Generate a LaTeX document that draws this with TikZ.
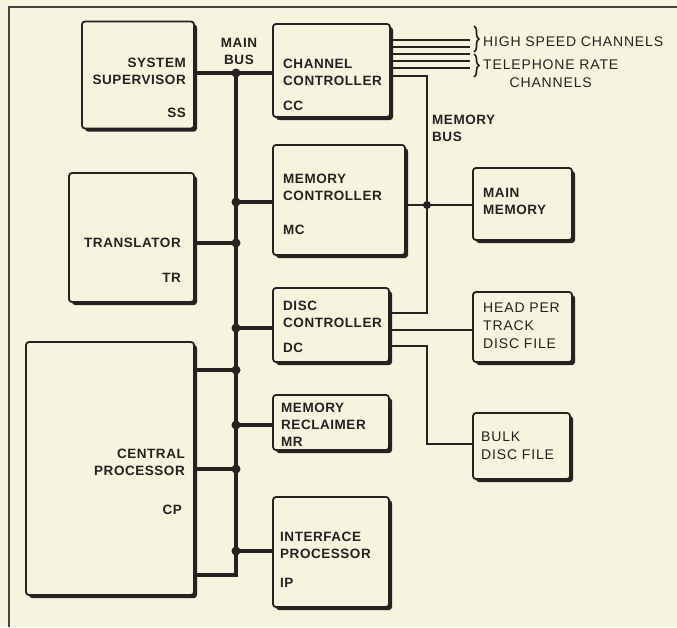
\documentclass[tikz,border=0pt]{standalone}
\usepackage{fontspec}
\setmainfont{Liberation Sans}
\usetikzlibrary{positioning, shadows, decorations.pathreplacing}
\definecolor{paper}{RGB}{245,244,222}
\definecolor{ink}{RGB}{38,34,34}

\begin{document}
\begin{tikzpicture}[
    x=1pt, y=-1pt,
    unit/.style={rectangle, draw=ink, line width=1.8pt, rounded corners=3pt, fill=paper, inner sep=0pt,
        drop shadow={shadow xshift=3pt, shadow yshift=-3pt, fill=ink, opacity=1}},
    lbl/.style={inner sep=0pt, text=ink, font=\fontsize{13.5}{17}\selectfont\bfseries\addfontfeature{LetterSpace=4}},
    note/.style={lbl, font=\fontsize{14}{18}\selectfont\addfontfeature{LetterSpace=6}},
    bus/.style={draw=ink, line width=3.2pt},
    link/.style={draw=ink, line width=2.2pt},
    dot/.style={circle, fill=ink, inner sep=0pt, minimum size=9pt}
]
\useasboundingbox[fill=paper] (0,0) rectangle (677,627);
\draw[ink!85, line width=1.2pt] (9,627) -- (9,7) -- (677,7);

% units on the main bus
\node[unit, minimum width=112, minimum height=107] (ss) at (138,75) {};
\node[unit, minimum width=117, minimum height=93] (cc) at (331.5,70.5) {};
\node[unit, minimum width=132, minimum height=110] (mc) at (339,200) {};
\node[unit, minimum width=125, minimum height=129] (tr) at (131.5,237.5) {};
\node[unit, minimum width=116, minimum height=74] (dc) at (331,325) {};
\node[unit, minimum width=168, minimum height=253] (cp) at (110,468.5) {};
\node[unit, minimum width=116, minimum height=55] (mr) at (331,422.5) {};
\node[unit, minimum width=116, minimum height=110] (ip) at (331,552) {};

% memory and discs
\node[unit, minimum width=99, minimum height=72] (mm) at (522.5,204) {};
\node[unit, minimum width=99, minimum height=70] (hpt) at (522.5,327) {};
\node[unit, minimum width=97, minimum height=66] (bulk) at (521.5,446) {};

% labels
\node[lbl, align=right, anchor=east] at (186,71) {SYSTEM\\SUPERVISOR};
\node[lbl, anchor=east] at (186,113) {SS};
\node[lbl, align=left, anchor=west] at (283,72) {CHANNEL\\CONTROLLER};
\node[lbl, anchor=west] at (283,106) {CC};
\node[lbl, align=left, anchor=west] at (283,187) {MEMORY\\CONTROLLER};
\node[lbl, anchor=west] at (283,230) {MC};
\node[lbl, anchor=east] at (181,243) {TRANSLATOR};
\node[lbl, anchor=east] at (181,278) {TR};
\node[lbl, align=left, anchor=west] at (283,314) {DISC\\CONTROLLER};
\node[lbl, anchor=west] at (283,348) {DC};
\node[lbl, align=right, anchor=east] at (185,462) {CENTRAL\\PROCESSOR};
\node[lbl, anchor=east] at (182,510) {CP};
\node[lbl, align=left, anchor=west] at (281,425) {MEMORY\\RECLAIMER\\MR};
\node[lbl, align=left, anchor=west] at (280,545) {INTERFACE\\PROCESSOR};
\node[lbl, anchor=west] at (280,583) {IP};
\node[lbl, align=left, anchor=west] at (483,201) {MAIN\\MEMORY};
\node[note, align=left, anchor=west] at (483,326) {HEAD PER\\TRACK\\DISC FILE};
\node[note, align=left, anchor=west] at (481,446) {BULK\\DISC FILE};
\node[lbl, align=center] (mainbus) at (239,51) {MAIN\\BUS};
\node[lbl, align=left, anchor=west] (membus) at (432,128) {MEMORY\\BUS};

% main bus
\coordinate (bt) at (236,73);
\coordinate (bb) at (236,575);
\draw[bus] (bt) -- (bb) -- (cp.east |- bb);
\draw[bus] (ss.east |- bt) -- (cc.west |- bt);
\foreach \yy/\u in {202/mc, 328/dc, 425/mr, 551/ip}
    \draw[bus] (bt |- 0,\yy) -- (\u.west |- 0,\yy);
\foreach \yy/\u in {243/tr, 370/cp, 469/cp}
    \draw[bus] (\u.east |- 0,\yy) -- (bt |- 0,\yy);
\foreach \yy in {73,202,243,328,370,425,469,551}
    \node[dot] at (bt |- 0,\yy) {};

% memory bus
\coordinate (mt) at (427,76);
\coordinate (mj) at (427,205);
\coordinate (mb) at (427,313);
\draw[link] (cc.east |- mt) -- (mt) -- (mb) -- (dc.east |- mb);
\draw[link] (mc.east |- mj) -- (mm.west |- mj);
\node[dot, minimum size=8pt] at (mj) {};

% disc files
\draw[link] (dc.east |- 0,330) -- (hpt.west |- 0,330);
\coordinate (dk) at (427,346);
\draw[link] (dc.east |- dk) -- (dk) -- (dk |- 0,444) -- (bulk.west |- 0,444);

% channels
\coordinate (ch) at (470,0);
\foreach \yy in {40,47,54,61,68}
    \draw[link, line width=1.8pt] (cc.east |- 0,\yy) -- (ch |- 0,\yy);
\draw[ink, line width=1.6pt, decorate, decoration={brace, amplitude=5pt}] (474,26) -- (474,52);
\draw[ink, line width=1.6pt, decorate, decoration={brace, amplitude=5pt}] (474,54) -- (474,77);
\node[note, anchor=west] (hs) at (483,42) {HIGH SPEED CHANNELS};
\node[note, align=center, anchor=west] (tel) at (483,74) {TELEPHONE RATE\\CHANNELS};
\end{tikzpicture}
\end{document}
